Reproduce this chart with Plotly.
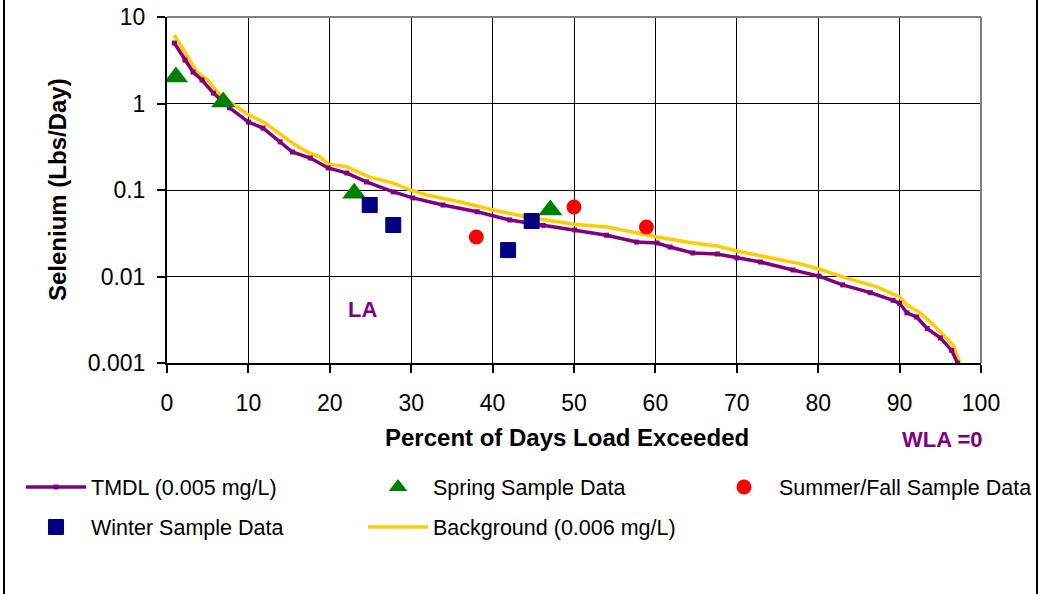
import plotly.graph_objects as go

# ---- data ----
tmdl_x = [0.9, 2.2, 3.2, 4.3, 5.7, 7.7, 10.0, 11.8, 13.9, 15.4, 17.6, 19.8, 22.1, 24.5,
          27.8, 30.2, 33.9, 38.1, 42.1, 46.2, 50.1, 54.0, 57.7, 60.2, 61.8, 64.6, 67.6,
          70.0, 72.9, 76.9, 80.1, 83.0, 86.4, 89.2, 90.0, 90.9, 92.1, 93.4, 95.0, 96.4, 97.1]
tmdl_y = [5.0, 3.18, 2.31, 1.87, 1.32, 0.89, 0.61, 0.52, 0.36, 0.275, 0.234, 0.18, 0.157, 0.124,
          0.095, 0.081, 0.067, 0.056, 0.045, 0.039, 0.0345, 0.030, 0.025, 0.0244, 0.0219, 0.0187, 0.0182,
          0.0164, 0.0147, 0.0119, 0.0101, 0.0080, 0.0065, 0.0053, 0.0049, 0.0038, 0.0034, 0.0025, 0.00195, 0.0014, 0.0010]

bg_x = [0.9, 2.6, 3.7, 5.0, 6.3, 8.6, 10.0, 12.0, 13.5, 15.4, 17.2, 18.8, 19.8, 22.1, 24.9,
        27.8, 29.9, 31.9, 36.0, 40.1, 44.2, 50.2, 54.1, 57.7, 60.2, 64.6, 67.6, 70.0, 72.9,
        77.8, 80.1, 83.0, 87.2, 90.0, 90.9, 92.5, 94.1, 96.6, 97.4]
bg_y = [6.2, 3.36, 2.31, 1.87, 1.32, 0.91, 0.74, 0.60, 0.47, 0.35, 0.275, 0.24, 0.20, 0.185, 0.141,
        0.12, 0.10, 0.0875, 0.0726, 0.0587, 0.0488, 0.040, 0.0373, 0.0318, 0.0286, 0.0244, 0.0225, 0.0197, 0.0173,
        0.0140, 0.0122, 0.0099, 0.0076, 0.0058, 0.0047, 0.0038, 0.0028, 0.0016, 0.0010]

spring_x = [1.1, 6.9, 23.0, 47.1]
spring_y = [2.02, 1.04, 0.092, 0.0587]

summer_x = [38.0, 50.0, 58.9]
summer_y = [0.0286, 0.0635, 0.0373]

winter_x = [24.9, 27.8, 41.9, 44.8]
winter_y = [0.067, 0.0394, 0.0202, 0.0438]

x_ticks = [0, 10, 20, 30, 40, 50, 60, 70, 80, 90, 100]
y_ticks = [0.001, 0.01, 0.1, 1, 10]
y_ticktext = ["0.001", "0.01", "0.1", "1", "10"]

FONT = "Liberation Sans, Arial, sans-serif"
PURPLE = "#800080"
YELLOW = "#FFCC00"
GREEN = "#008000"
RED = "#FF0000"
NAVY = "#000080"

W, H = 1041, 594
L, R, T, B = 167, 60, 17, 231
PW, PH = W - L - R, H - T - B


def px_x(p):
    return (p - L) / PW


def px_y(p):
    return (H - B - p) / PH


fig = go.Figure()

fig.add_trace(go.Scatter(
    x=bg_x, y=bg_y, mode="lines", name="Background (0.006 mg/L)",
    line=dict(color=YELLOW, width=3.5), legend="legend5"))
fig.add_trace(go.Scatter(
    x=tmdl_x, y=tmdl_y, mode="lines+markers", name="TMDL (0.005 mg/L)",
    line=dict(color=PURPLE, width=3.5),
    marker=dict(symbol="square", size=5, color=PURPLE),
    legend="legend"))
fig.add_trace(go.Scatter(
    x=spring_x, y=spring_y, mode="markers", name="Spring Sample Data",
    marker=dict(symbol="triangle-up", size=21, color=GREEN),
    legend="legend2"))
fig.add_trace(go.Scatter(
    x=summer_x, y=summer_y, mode="markers", name="Summer/Fall Sample Data",
    marker=dict(symbol="circle", size=15, color=RED),
    legend="legend3"))
fig.add_trace(go.Scatter(
    x=winter_x, y=winter_y, mode="markers", name="Winter Sample Data",
    marker=dict(symbol="square", size=15, color=NAVY,
                line=dict(color=NAVY, width=1)),
    legend="legend4"))


def leg(text_px, center_py):
    return dict(
        xref="container", yref="container",
        x=(text_px - 71) / W, y=1 - center_py / H,
        xanchor="left", yanchor="middle",
        font=dict(family=FONT, size=21.5, color="black"),
        itemwidth=60, bgcolor="rgba(0,0,0,0)", borderwidth=0,
    )


fig.update_layout(
    width=W, height=H,
    margin=dict(l=L, r=R, t=T, b=B, autoexpand=False),
    paper_bgcolor="white", plot_bgcolor="white",
    font=dict(family=FONT, size=22, color="black"),
    showlegend=True,
    legend=leg(92, 487),
    legend2=leg(434, 487),
    legend3=leg(780, 487),
    legend4=leg(92, 527),
    legend5=leg(434, 527),
    xaxis=dict(
        range=[0, 100], tickvals=x_ticks, ticks="outside", ticklen=8,
        tickwidth=2, tickcolor="black", showline=True, linecolor="black",
        linewidth=2, showgrid=True, gridcolor="black", gridwidth=1.2,
        zeroline=False, ticklabelstandoff=10, automargin=False,
        tickfont=dict(family=FONT, size=23, color="black"),
    ),
    yaxis=dict(
        type="log", range=[-3, 1], tickvals=y_ticks, ticktext=y_ticktext,
        ticks="outside", ticklen=8, tickwidth=2, tickcolor="black",
        showline=True, linecolor="black", linewidth=2, showgrid=True,
        gridcolor="black", gridwidth=1.2, zeroline=False,
        ticklabelstandoff=7, automargin=False,
        tickfont=dict(family=FONT, size=23, color="black"),
    ),
)

# plot area top/right border (gray) and chart border (left/right black)
fig.add_shape(type="line", xref="paper", yref="paper", x0=0, x1=1, y0=1, y1=1,
              line=dict(color="#808080", width=2), layer="above")
fig.add_shape(type="line", xref="paper", yref="paper", x0=1, x1=1, y0=0, y1=1,
              line=dict(color="#808080", width=2), layer="above")
fig.add_shape(type="line", xref="paper", yref="paper", x0=px_x(4), x1=px_x(4),
              y0=px_y(0), y1=px_y(H), line=dict(color="black", width=2), layer="above")
fig.add_shape(type="line", xref="paper", yref="paper", x0=px_x(1037), x1=px_x(1037),
              y0=px_y(0), y1=px_y(H), line=dict(color="black", width=2), layer="above")

ann = dict(showarrow=False, xanchor="center", yanchor="middle")
fig.add_annotation(text="<b>Percent of Days Load Exceeded</b>", xref="paper", yref="paper",
                   x=px_x(567), y=px_y(437),
                   font=dict(family=FONT, size=24, color="black"), **ann)
fig.add_annotation(text="<b>Selenium (Lbs/Day)</b>", xref="paper", yref="paper",
                   x=px_x(57), y=px_y(190), textangle=-90,
                   font=dict(family=FONT, size=24, color="black"), **ann)
fig.add_annotation(text="<b>LA</b>", xref="x", yref="y", x=24, y=-2.387,
                   font=dict(family=FONT, size=22, color=PURPLE), **ann)
fig.add_annotation(text="<b>WLA =0</b>", xref="paper", yref="paper",
                   x=px_x(942), y=px_y(440),
                   font=dict(family=FONT, size=22, color=PURPLE), **ann)

fig.write_html("out.html", config={"displayModeBar": False},
               post_script="document.body.style.margin='0';")
